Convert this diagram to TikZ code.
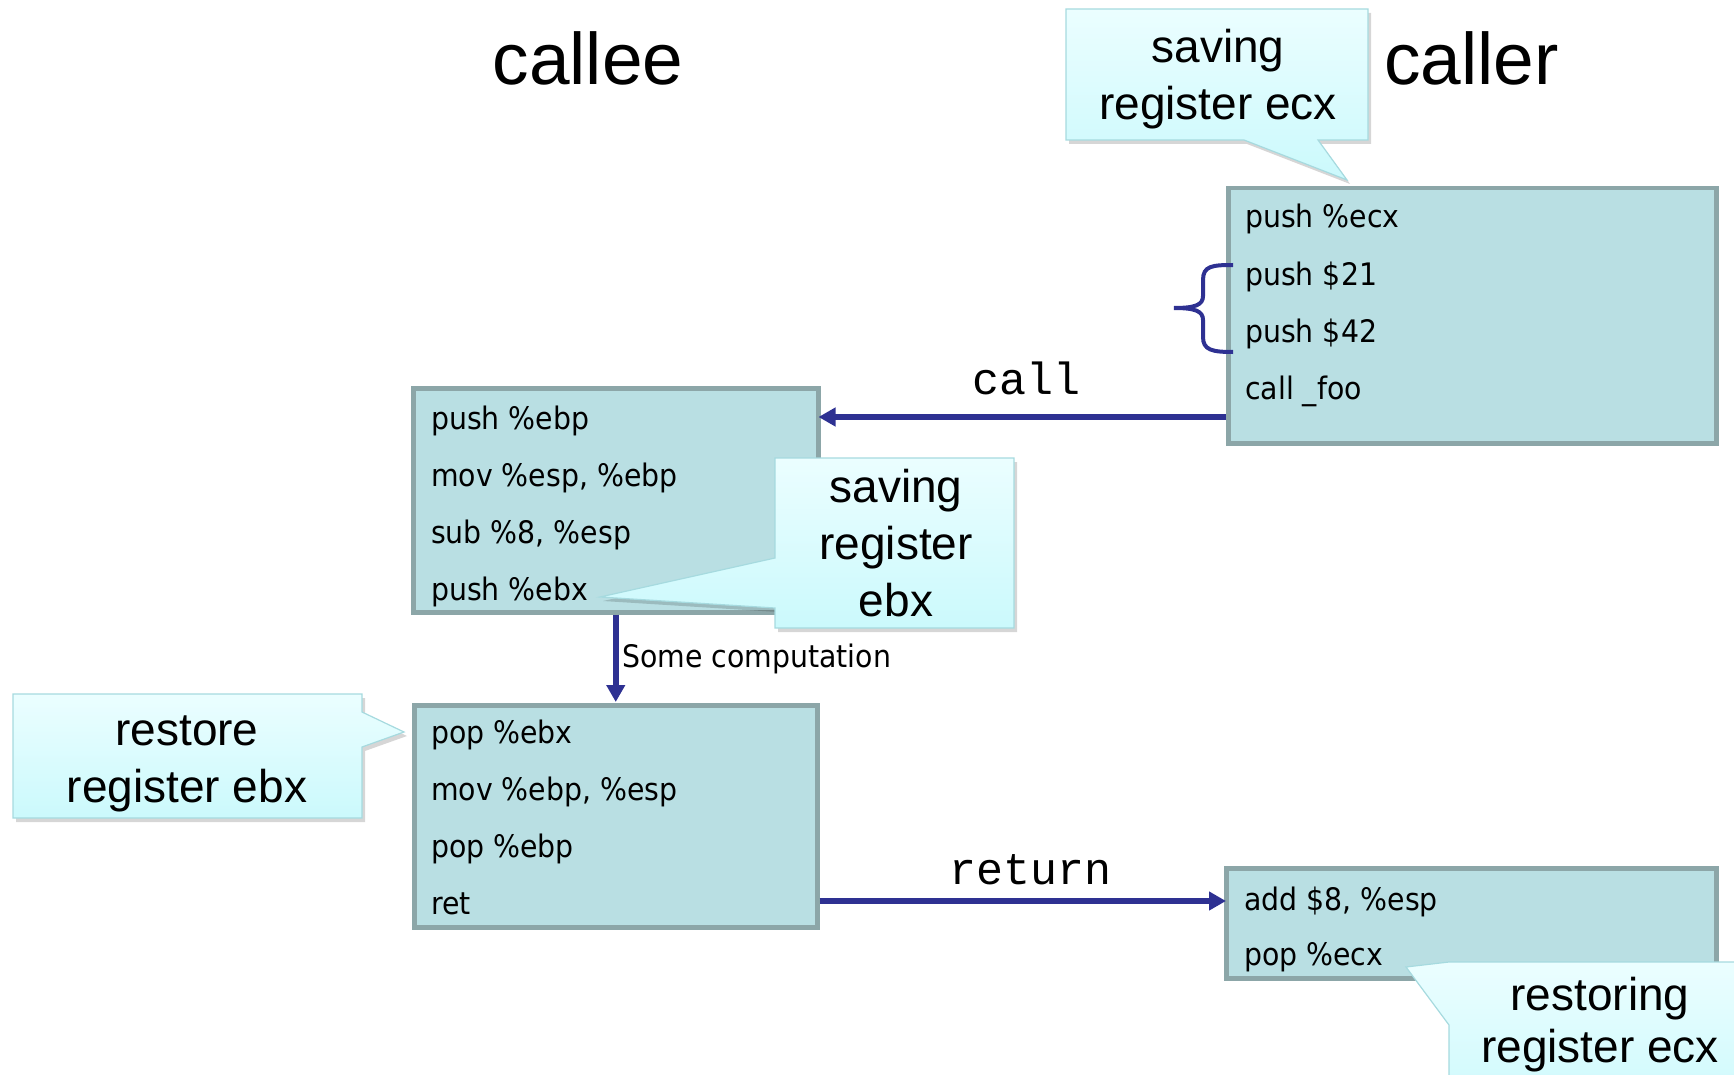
\documentclass[tikz,border=0pt]{standalone}
\usepackage{fontspec}
\setmainfont{Liberation Sans}
\newfontfamily\codefont[FakeStretch=0.915]{DejaVu Sans}
\newfontfamily\monofont{Liberation Mono}
\usetikzlibrary{arrows.meta,calc}

\definecolor{boxfill}{HTML}{B9DFE3}
\definecolor{boxline}{HTML}{8CA6A8}
\definecolor{flow}{HTML}{2E3192}
\definecolor{notetop}{HTML}{EBFEFF}
\definecolor{notebot}{HTML}{CBF9FC}
\definecolor{noteline}{HTML}{A6DADF}

\tikzset{
  codebox/.style={draw=boxline, fill=boxfill, line width=4.5pt, anchor=north west, inner sep=0pt},
  codeline/.style={anchor=base west, inner sep=0pt, font=\codefont\fontsize{31}{36}\selectfont},
  noteline/.style={anchor=base, inner sep=0pt, font=\fontsize{46}{57}\selectfont},
  notebody/.style={draw=noteline, line width=1.2pt, top color=notetop, bottom color=notebot},
  noteshadow/.style={fill=black, opacity=0.16},
  flowarrow/.style={draw=flow, line width=5.5pt, -{Triangle[length=17pt,width=18pt]}},
  brace/.style={draw=flow, line width=4pt},
  title/.style={inner sep=0pt, font=\fontsize{73}{80}\selectfont},
  flowlabel/.style={anchor=base, inner sep=0pt, font=\monofont\fontsize{45}{50}\selectfont},
}

\begin{document}
\begin{tikzpicture}[x=1pt,y=-1pt]
\useasboundingbox (0,0) rectangle (1734,1075);
\clip (0,0) rectangle (1734,1075);

% headings
\node[title, anchor=base] (calleehead) at (588,85) {callee};
\node[title, anchor=base west] (callerhead) at (1384,85) {caller};

% code blocks
\node[codebox, minimum width=405pt, minimum height=224pt] (prologue) at (411,386) {};
\node[codebox, minimum width=403pt, minimum height=222pt] (epilogue) at (412,703) {};
\node[codebox, minimum width=488pt, minimum height=255pt] (callsite) at (1226,186) {};
\node[codebox, minimum width=490pt, minimum height=110pt] (cleanup) at (1224,866) {};

\node[codeline] (p1) at (431,429) {push \%ebp};
\node[codeline] (p2) at (431,486) {mov \%esp, \%ebp};
\node[codeline] (p3) at (431,543) {sub \%8, \%esp};
\node[codeline] (p4) at (431,600) {push \%ebx};

\node[codeline] (e1) at (431,743) {pop \%ebx};
\node[codeline] (e2) at (431,800) {mov \%ebp, \%esp};
\node[codeline] (e3) at (431,857) {pop \%ebp};
\node[codeline] (e4) at (431,914) {ret};

\node[codeline] (c1) at (1245,228) {push \%ecx};
\node[codeline] (c2) at (1245,285) {push \$21};
\node[codeline] (c3) at (1245,342) {push \$42};
\node[codeline] (c4) at (1245,399) {call \_foo};

\node[codeline] (r1) at (1244,910) {add \$8, \%esp};
\node[codeline] (r2) at (1244,965) {pop \%ecx};

% argument brace
\draw[brace] (1233,265) .. controls (1212,265) and (1203,266) .. (1203,280)
  -- (1203,296) .. controls (1203,305) and (1195,308) .. (1174,308)
  .. controls (1195,308) and (1203,311) .. (1203,320)
  -- (1203,337) .. controls (1203,350) and (1212,352) .. (1233,352);

% control flow
\coordinate (callrow) at (0,417);
\coordinate (retrow) at (0,901);
\draw[flowarrow] (callsite.west |- callrow) -- ([xshift=-2pt]prologue.east |- callrow);
\node[flowlabel] (calllabel) at (1026,394) {call};

\draw[flowarrow] (prologue.south) -- ([yshift=1pt]epilogue.north);
\node[codeline] (work) at (622,667) {Some computation};

\draw[flowarrow] (epilogue.east |- retrow) -- ([xshift=2pt]cleanup.west |- retrow);
\node[flowlabel] (retlabel) at (1030,884) {return};

% callouts: shadows
\begin{scope}[shift={(3,4)}]
\fill[noteshadow] (1066,9) -- (1368,9) -- (1368,140) -- (1318,140) -- (1347,180) -- (1244,140) -- (1066,140) -- cycle;
\fill[noteshadow] (775,458) -- (1014,458) -- (1014,628) -- (775,628) -- (775,608) -- (600,597) -- (775,558) -- cycle;
\fill[noteshadow] (13,694) -- (362,694) -- (362,712) -- (404,732) -- (362,747) -- (362,818) -- (13,818) -- cycle;
\fill[noteshadow] (1449,962) -- (1770,962) -- (1770,1120) -- (1449,1120) -- (1449,1025) -- (1406,967) -- cycle;
\end{scope}

% callouts: bodies
\path[notebody] (1066,9) -- (1368,9) -- (1368,140) -- (1318,140) -- (1347,180) -- (1244,140) -- (1066,140) -- cycle;
\path[notebody] (775,458) -- (1014,458) -- (1014,628) -- (775,628) -- (775,608) -- (600,597) -- (775,558) -- cycle;
\path[notebody] (13,694) -- (362,694) -- (362,712) -- (404,732) -- (362,747) -- (362,818) -- (13,818) -- cycle;
\path[notebody] (1449,962) -- (1770,962) -- (1770,1120) -- (1449,1120) -- (1449,1025) -- (1406,967) -- cycle;

% callouts: texts
\node[noteline] (ecxa) at (1218,63) {saving};
\node[noteline] (ecxb) at (1218,120) {register ecx};

\node[noteline] (ebxa) at (896,502) {saving};
\node[noteline] (ebxb) at (896,559) {register};
\node[noteline] (ebxc) at (896,616) {ebx};

\node[noteline] (rsta) at (187,745) {restore};
\node[noteline] (rstb) at (187,802) {register ebx};

\node[noteline] (rcxa) at (1600,1010) {restoring};
\node[noteline] (rcxb) at (1600,1062) {register ecx};
\end{tikzpicture}
\end{document}
